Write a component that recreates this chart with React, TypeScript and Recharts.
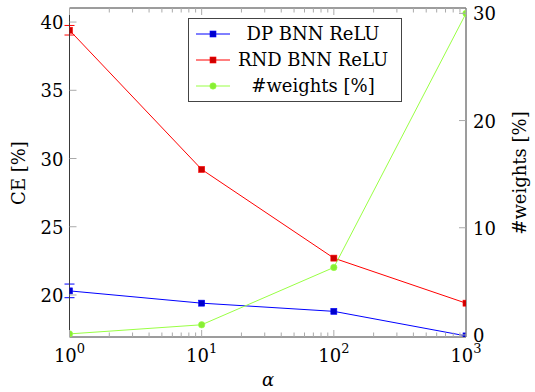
import { LineChart, Line, XAxis, YAxis, Legend, ErrorBar, Label } from 'recharts';

const alphas = [1, 10, 100, 1000];
const dpCe = [20.3, 19.4, 18.8, 17.0];
const dpErr = [0.5, 0, 0, 0];
const rndCe = [39.4, 29.2, 22.7, 19.4];
const rndErr = [0.35, 0, 0, 0];
const weightsPct = [0.1, 0.95, 6.3, 30.0];

const majorTicks = [1, 10, 100, 1000];
const minorSteps = [2, 3, 4, 5, 6, 7, 8, 9];
const ceTicks = [20, 25, 30, 35, 40];
const weightTicks = [0, 10, 20, 30];

const rows = alphas.map((a, i) => ({
  alpha: a,
  dp: dpCe[i],
  dpErr: dpErr[i],
  rnd: rndCe[i],
  rndErr: rndErr[i],
  w: weightsPct[i],
}));

const xTicks = [
  ...majorTicks,
  ...majorTicks.slice(0, 3).flatMap((d) => minorSteps.map((m) => d * m)),
].sort((a, b) => a - b);

const FONT = '"DejaVu Serif", "Liberation Serif", serif';
const AXIS = '#3a3a3a';
const TICK = '#aaaaaa';
const BLUE = '#0000ff';
const BLUE_FILL = '#0000cc';
const RED = '#ff0000';
const RED_FILL = '#cc0000';
const GREEN = '#99ff44';
const GREEN_FILL = '#88ee33';

const legendItems = [
  { name: 'DP BNN ReLU', color: BLUE, fill: BLUE_FILL, round: false },
  { name: 'RND BNN ReLU', color: RED, fill: RED_FILL, round: false },
  { name: '#weights [%]', color: GREEN, fill: GREEN_FILL, round: true },
];

function BottomTick(props: any) {
  const { x, y, payload } = props;
  const v = payload.value;
  const major = majorTicks.includes(v);
  return (
    <g>
      <line x1={x} x2={x} y1={y} y2={y - (major ? 7 : 4.5)} stroke={TICK} />
      {major && (
        <text x={x} y={y + 25} textAnchor="middle" fontSize={18} fontFamily={FONT} fill="#000">
          <tspan>10</tspan>
          <tspan dy={-9} fontSize={13}>{Math.round(Math.log10(v))}</tspan>
        </text>
      )}
    </g>
  );
}

function TopTick(props: any) {
  const { x, y, payload } = props;
  const major = majorTicks.includes(payload.value);
  return <line x1={x} x2={x} y1={y} y2={y + (major ? 7 : 4.5)} stroke={TICK} />;
}

function LeftTick(props: any) {
  const { x, y, payload } = props;
  return (
    <g>
      <line x1={x} x2={x + 7} y1={y} y2={y} stroke={TICK} />
      <text x={x - 6} y={y + 7} textAnchor="end" fontSize={18} fontFamily={FONT} fill="#000">
        {payload.value}
      </text>
    </g>
  );
}

function RightTick(props: any) {
  const { x, y, payload } = props;
  return (
    <g>
      <line x1={x} x2={x - 7} y1={y} y2={y} stroke={TICK} />
      <text x={x + 7} y={y + 7} textAnchor="start" fontSize={18} fontFamily={FONT} fill="#000">
        {payload.value}
      </text>
    </g>
  );
}

const squareDot = (fill: string, stroke: string) => (p: any) => (
  <rect
    key={`sq-${fill}-${p.index}`}
    x={p.cx - 3}
    y={p.cy - 3}
    width={6}
    height={6}
    fill={fill}
    stroke={stroke}
    strokeWidth={0.6}
  />
);

const roundDot = (fill: string, stroke: string) => (p: any) => (
  <circle key={`c-${p.index}`} cx={p.cx} cy={p.cy} r={3.2} fill={fill} stroke={stroke} strokeWidth={0.6} />
);

function LegendBox() {
  return (
    <div
      style={{
        width: 212,
        height: 78,
        padding: '2px 0',
        border: '1px solid #444',
        background: '#fff',
        fontFamily: FONT,
        fontSize: 18,
        color: '#000',
      }}
    >
      {legendItems.map((it) => (
        <div key={it.name} style={{ display: 'flex', alignItems: 'center', height: 26 }}>
          <svg width={44} height={26}>
            <line x1={7} x2={41} y1={13} y2={13} stroke={it.color} strokeWidth={1} />
            {it.round ? (
              <circle cx={24} cy={13} r={3.2} fill={it.fill} stroke={it.color} strokeWidth={0.6} />
            ) : (
              <rect x={21} y={10} width={6} height={6} fill={it.fill} stroke={it.color} strokeWidth={0.6} />
            )}
          </svg>
          <span style={{ flex: 1, textAlign: 'center', lineHeight: '26px', paddingRight: 8, whiteSpace: 'nowrap' }}>
            {it.name}
          </span>
        </div>
      ))}
    </div>
  );
}

export default function App() {
  return (
    <div style={{ position: 'absolute', left: 0, top: 0 }}>
      <LineChart width={535} height={392} data={rows} margin={{ top: 7, right: 0, bottom: 54, left: 0 }}>
        <XAxis
          xAxisId="bottom"
          dataKey="alpha"
          type="number"
          scale="log"
          domain={[1, 1000]}
          allowDataOverflow
          ticks={xTicks}
          interval={0}
          height={1}
          tickSize={0}
          tickMargin={0}
          tickLine={false}
          tick={<BottomTick />}
          axisLine={{ stroke: AXIS }}
        >
          <Label
            content={() => (
              <text x={268} y={386} textAnchor="middle" fontSize={18} fontFamily={FONT} fontStyle="italic" fill="#000">
                α
              </text>
            )}
          />
        </XAxis>
        <XAxis
          xAxisId="top"
          orientation="top"
          dataKey="alpha"
          type="number"
          scale="log"
          domain={[1, 1000]}
          allowDataOverflow
          ticks={xTicks}
          interval={0}
          height={1}
          tickSize={0}
          tickMargin={0}
          tickLine={false}
          tick={<TopTick />}
          axisLine={{ stroke: AXIS }}
        />
        <YAxis
          yAxisId="ce"
          orientation="left"
          width={69.5}
          domain={[16.92, 41.03]}
          allowDataOverflow
          ticks={ceTicks}
          interval={0}
          tickSize={0}
          tickMargin={0}
          tickLine={false}
          tick={<LeftTick />}
          axisLine={{ stroke: AXIS }}
        >
          <Label
            content={() => (
              <text
                x={18}
                y={173}
                transform="rotate(-90, 18, 173)"
                textAnchor="middle"
                dominantBaseline="central"
                fontSize={18}
                fontFamily={FONT}
                fill="#000"
              >
                CE [%]
              </text>
            )}
          />
        </YAxis>
        <YAxis
          yAxisId="w"
          orientation="right"
          width={69}
          domain={[-0.19, 30.5]}
          allowDataOverflow
          ticks={weightTicks}
          interval={0}
          tickSize={0}
          tickMargin={0}
          tickLine={false}
          tick={<RightTick />}
          axisLine={{ stroke: AXIS }}
        >
          <Label
            content={() => (
              <text
                x={519}
                y={173}
                transform="rotate(-90, 519, 173)"
                textAnchor="middle"
                dominantBaseline="central"
                fontSize={18}
                fontFamily={FONT}
                fill="#000"
              >
                #weights [%]
              </text>
            )}
          />
        </YAxis>
        <Line
          xAxisId="bottom"
          yAxisId="ce"
          type="linear"
          dataKey="dp"
          name="DP BNN ReLU"
          stroke={BLUE}
          strokeWidth={1}
          dot={squareDot(BLUE_FILL, BLUE)}
          activeDot={false}
          isAnimationActive={false}
        >
          <ErrorBar dataKey="dpErr" direction="y" width={5} stroke={BLUE} strokeWidth={1} isAnimationActive={false} />
        </Line>
        <Line
          xAxisId="bottom"
          yAxisId="ce"
          type="linear"
          dataKey="rnd"
          name="RND BNN ReLU"
          stroke={RED}
          strokeWidth={1}
          dot={squareDot(RED_FILL, RED)}
          activeDot={false}
          isAnimationActive={false}
        >
          <ErrorBar dataKey="rndErr" direction="y" width={5} stroke={RED} strokeWidth={1} isAnimationActive={false} />
        </Line>
        <Line
          xAxisId="bottom"
          yAxisId="w"
          type="linear"
          dataKey="w"
          name="#weights [%]"
          stroke={GREEN}
          strokeWidth={1}
          dot={roundDot(GREEN_FILL, GREEN)}
          activeDot={false}
          isAnimationActive={false}
        />
        <Legend
          layout="vertical"
          align="center"
          verticalAlign="middle"
          content={() => <LegendBox />}
          wrapperStyle={{ left: 188, top: 18, width: 214, height: 84, margin: 0 }}
        />
      </LineChart>
    </div>
  );
}
